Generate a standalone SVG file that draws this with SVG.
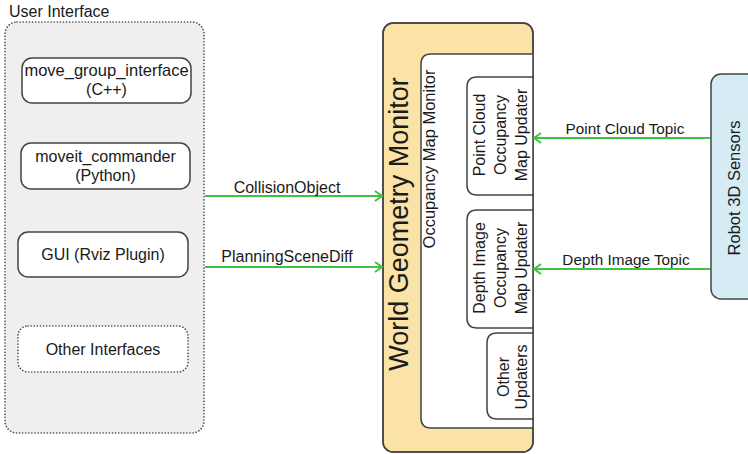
<svg xmlns="http://www.w3.org/2000/svg" width="748" height="454" viewBox="0 0 748 454">
<defs>
<style>
text{font-family:"Liberation Sans",Arial,sans-serif;fill:#1a1a1a;}
.box{fill:#fff;stroke:#444;stroke-width:1.5;}
.dot{stroke:#444;stroke-width:1.6;stroke-dasharray:0.1 3;stroke-linecap:round;}
.lbl{font-size:16px;text-anchor:middle;}
.tlbl{font-size:15.3px;text-anchor:middle;}
.rot{font-size:16px;text-anchor:middle;}
.conn{stroke:#3ec43e;stroke-width:2;fill:none;}
</style>
<marker id="ah" markerWidth="12" markerHeight="12" refX="9" refY="6" orient="auto" markerUnits="userSpaceOnUse">
<path d="M2,1 L9,6 L2,11" fill="none" stroke="#3ec43e" stroke-width="2"/>
</marker>
</defs>

<g id="user-interface">
<text x="9" y="17" style="font-size:16px">User Interface</text>
<rect x="5" y="22" width="199" height="411" rx="12" fill="#efefef" class="dot"/>
</g>
<g id="move-group-interface">
<rect x="22" y="58" width="169" height="45" rx="10" class="box"/>
<text x="106.5" y="76" class="lbl" style="font-size:16.5px">move_group_interface</text>
<text x="106.5" y="95" class="lbl">(C++)</text>
</g>
<g id="moveit-commander">
<rect x="21" y="143" width="169" height="46" rx="10" class="box"/>
<text x="105.5" y="162" class="lbl">moveit_commander</text>
<text x="105.5" y="181" class="lbl">(Python)</text>
</g>
<g id="gui">
<rect x="18" y="232" width="170" height="45" rx="10" class="box"/>
<text x="103" y="260" class="lbl">GUI (Rviz Plugin)</text>
</g>
<g id="other-interfaces">
<rect x="18" y="326" width="170" height="46" rx="10" fill="#fff" class="dot"/>
<text x="103" y="355" class="lbl">Other Interfaces</text>
</g>

<g id="world-geometry-monitor">
<rect x="383" y="23" width="150" height="429" rx="10" fill="#fbe2a6" stroke="#444" stroke-width="1.5"/>
<text transform="translate(408,224) rotate(-90)" style="font-size:27px;text-anchor:middle">World Geometry Monitor</text>
</g>
<g id="occupancy-map-monitor">
<path d="M533,54 L431,54 Q421,54 421,64 L421,418 Q421,428 431,428 L533,428" class="box"/>
<text transform="translate(435,159) rotate(-90)" style="font-size:16.5px;text-anchor:middle">Occupancy Map Monitor</text>
</g>
<g id="point-cloud-updater">
<path d="M533,77 L477,77 Q467,77 467,87 L467,185 Q467,195 477,195 L533,195" class="box"/>
<text transform="translate(485,135) rotate(-90)" class="rot">Point Cloud</text>
<text transform="translate(506,135) rotate(-90)" class="rot">Occupancy</text>
<text transform="translate(527,135) rotate(-90)" class="rot">Map Updater</text>
</g>
<g id="depth-image-updater">
<path d="M533,210 L477,210 Q467,210 467,220 L467,318 Q467,328 477,328 L533,328" class="box"/>
<text transform="translate(485,268) rotate(-90)" class="rot">Depth Image</text>
<text transform="translate(506,268) rotate(-90)" class="rot">Occupancy</text>
<text transform="translate(527,268) rotate(-90)" class="rot">Map Updater</text>
</g>
<g id="other-updaters">
<path d="M533,333 L497,333 Q487,333 487,343 L487,409 Q487,419 497,419 L533,419" class="box"/>
<text transform="translate(509,377) rotate(-90)" class="rot">Other</text>
<text transform="translate(527,377) rotate(-90)" class="rot">Updaters</text>
</g>
<rect x="383" y="23" width="150" height="429" rx="10" fill="none" stroke="#444" stroke-width="1.5"/>

<g id="robot-3d-sensors">
<rect x="711" y="74" width="50" height="225" rx="10" fill="#d5ecf5" stroke="#444" stroke-width="1.5"/>
<text transform="translate(740,188) rotate(-90)" style="font-size:16.5px;text-anchor:middle">Robot 3D Sensors</text>
</g>

<g id="connectors">
<line x1="205" y1="196" x2="382" y2="196" class="conn" marker-end="url(#ah)"/>
<text x="287" y="193" class="lbl">CollisionObject</text>
<line x1="205" y1="267" x2="382" y2="267" class="conn" marker-end="url(#ah)"/>
<text x="287" y="262" class="lbl">PlanningSceneDiff</text>
<line x1="710" y1="138" x2="534" y2="138" class="conn" marker-end="url(#ah)"/>
<text x="625" y="134" class="tlbl">Point Cloud Topic</text>
<line x1="710" y1="269" x2="534" y2="269" class="conn" marker-end="url(#ah)"/>
<text x="626" y="265" class="tlbl">Depth Image Topic</text>
</g>
</svg>
